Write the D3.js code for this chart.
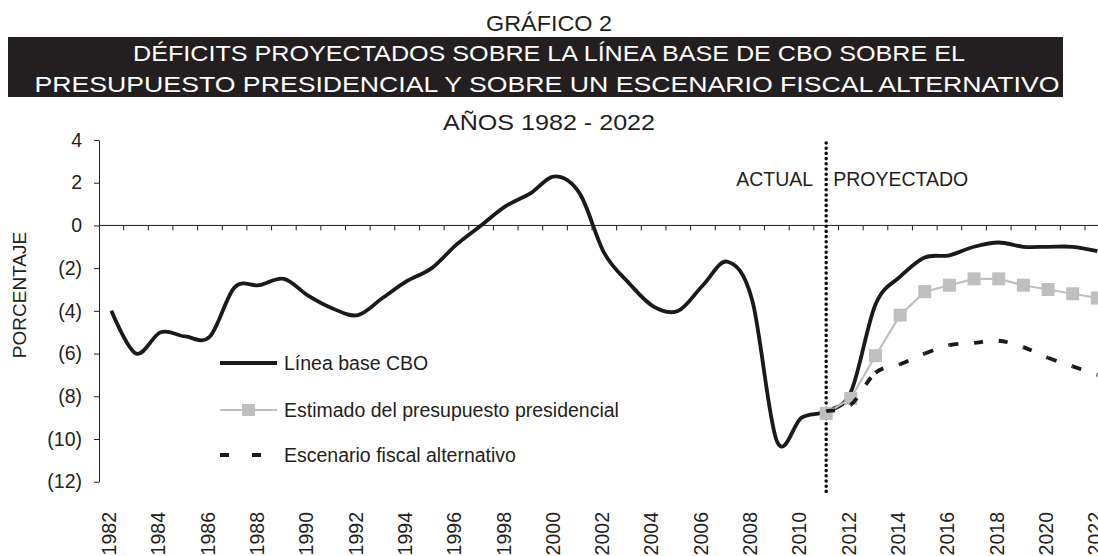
<!DOCTYPE html>
<html>
<head>
<meta charset="utf-8">
<script src="https://cdn.jsdelivr.net/npm/d3@7/dist/d3.min.js"></script>
<style>
  body { margin: 0; background: #fff; }
  svg { display: block; }
  text { font-family: "Liberation Sans", Arial, sans-serif; fill: #231f20; }
</style>
</head>
<body>
<script>
const width = 1098;
const height = 556;

// datos (% del PIB, negativo = deficit)
const years = [1982, 1983, 1984, 1985, 1986, 1987, 1988, 1989, 1990, 1991,
  1992, 1993, 1994, 1995, 1996, 1997, 1998, 1999, 2000, 2001,
  2002, 2003, 2004, 2005, 2006, 2007, 2008, 2009, 2010, 2011,
  2012, 2013, 2014, 2015, 2016, 2017, 2018, 2019, 2020, 2021, 2022];
const cboBaseline = [-4.0, -6.0, -5.0, -5.2, -5.2, -2.9, -2.8, -2.5, -3.3, -3.9,
  -4.2, -3.4, -2.6, -2.0, -0.9, 0.0, 0.9, 1.5, 2.3, 1.5,
  -1.3, -2.7, -3.8, -4.0, -2.8, -1.7, -3.5, -10.1, -9.0, -8.7,
  -7.8, -3.7, -2.4, -1.5, -1.4, -1.0, -0.8, -1.0, -1.0, -1.0, -1.2];
const projYears = [2011, 2012, 2013, 2014, 2015, 2016, 2017, 2018, 2019, 2020, 2021, 2022];
const presBudget = [-8.8, -8.1, -6.1, -4.2, -3.1, -2.8, -2.5, -2.5, -2.8, -3.0, -3.2, -3.4];
const altScenario = [-8.7, -8.4, -6.9, -6.5, -6.0, -5.6, -5.5, -5.4, -5.7, -6.2, -6.6, -7.0];
const yTicks = [4, 2, 0, -2, -4, -6, -8, -10, -12];
const legendLabels = ['Línea base CBO', 'Estimado del presupuesto presidencial', 'Escenario fiscal alternativo'];
const splitYear = 2011;

const svg = d3.select('body').append('svg')
  .attr('width', width)
  .attr('height', height);

// titulos (tipografia condensada: se ajusta el ancho con textLength)
function title(txt, xPos, yPos, len, color) {
  svg.append('text')
    .attr('x', xPos).attr('y', yPos)
    .attr('text-anchor', 'middle')
    .attr('font-size', 22)
    .attr('textLength', len).attr('lengthAdjust', 'spacingAndGlyphs')
    .style('fill', color || '#231f20')
    .text(txt);
}

title('GRÁFICO 2', 549, 31, 126);
svg.append('rect')
  .attr('x', 8).attr('y', 37)
  .attr('width', 1055).attr('height', 60)
  .attr('fill', '#231f20');
title('DÉFICITS PROYECTADOS SOBRE LA LÍNEA BASE DE CBO SOBRE EL', 549, 61, 832, '#fff');
title('PRESUPUESTO PRESIDENCIAL Y SOBRE UN ESCENARIO FISCAL ALTERNATIVO', 547, 92, 1025, '#fff');
title('AÑOS 1982 - 2022', 549, 130, 212);

// escalas
const x = d3.scaleBand()
  .domain(years)
  .range([99, 99 + years.length * 24.65]);
const cx = d => x(d) + x.bandwidth() / 2;

const y = d3.scaleLinear()
  .domain([-12, 4])
  .range([481.7, 140]);

// eje Y
const yAxis = svg.append('g')
  .attr('transform', 'translate(99,0)')
  .call(d3.axisLeft(y)
    .tickValues(yTicks)
    .tickSize(5)
    .tickSizeOuter(0)
    .tickPadding(12)
    .tickFormat(d => d < 0 ? `(${-d})` : d));
yAxis.selectAll('path, line').attr('stroke', '#231f20');
yAxis.selectAll('text')
  .attr('font-size', 19.5)
  .attr('font-family', '"Liberation Sans", Arial, sans-serif');

svg.append('text')
  .attr('transform', 'translate(26,295) rotate(-90)')
  .attr('text-anchor', 'middle')
  .attr('font-size', 19)
  .text('PORCENTAJE');

// linea del cero con marcas por anio
svg.append('line')
  .attr('x1', 99).attr('x2', width)
  .attr('y1', y(0)).attr('y2', y(0))
  .attr('stroke', '#231f20');

svg.selectAll('.xtick')
  .data(years.slice(1))
  .enter()
  .append('line')
  .attr('class', 'xtick')
  .attr('x1', d => x(d)).attr('x2', d => x(d))
  .attr('y1', y(0)).attr('y2', y(0) + 5)
  .attr('stroke', '#231f20');

// etiquetas del eje X (cada dos anios)
svg.selectAll('.xlabel')
  .data(years.filter((d, i) => i % 2 === 0))
  .enter()
  .append('text')
  .attr('class', 'xlabel')
  .attr('transform', d => `translate(${cx(d) - 2},512) rotate(-90)`)
  .attr('text-anchor', 'end')
  .attr('dy', '0.35em')
  .attr('font-size', 19.5)
  .text(d => d);

// linea punteada actual / proyectado
svg.append('line')
  .attr('x1', cx(splitYear)).attr('x2', cx(splitYear))
  .attr('y1', 143).attr('y2', 493)
  .attr('stroke', '#111')
  .attr('stroke-width', 3.6)
  .attr('stroke-linecap', 'round')
  .attr('stroke-dasharray', '0 5.2');

svg.append('text')
  .attr('x', cx(splitYear) - 13).attr('y', 186)
  .attr('text-anchor', 'end')
  .attr('font-size', 19.5)
  .text('ACTUAL');
svg.append('text')
  .attr('x', cx(splitYear) + 7).attr('y', 186)
  .attr('font-size', 19.5)
  .text('PROYECTADO');

// series
const smooth = d3.line()
  .x(d => cx(d[0]))
  .y(d => y(d[1]))
  .curve(d3.curveCardinal.tension(0));
const straight = d3.line()
  .x(d => cx(d[0]))
  .y(d => y(d[1]));

svg.append('path')
  .datum(years.map((d, i) => [d, cboBaseline[i]]))
  .attr('d', smooth)
  .attr('fill', 'none')
  .attr('stroke', '#1a1a1a')
  .attr('stroke-width', 3.8);

const presData = projYears.map((d, i) => [d, presBudget[i]]);
svg.append('path')
  .datum(presData)
  .attr('d', straight)
  .attr('fill', 'none')
  .attr('stroke', '#bebfc1')
  .attr('stroke-width', 2.2);
svg.selectAll('.pres')
  .data(presData)
  .enter()
  .append('rect')
  .attr('class', 'pres')
  .attr('x', d => cx(d[0]) - 6.5)
  .attr('y', d => y(d[1]) - 6.5)
  .attr('width', 13).attr('height', 13)
  .attr('fill', '#bebfc1');

// escenario alternativo: cada tramo suavizado por separado para que
// el patron de trazos empiece de nuevo en cada anio
const altPts = projYears.map((d, i) => [cx(d), y(altScenario[i])]);
const altSegments = altPts.slice(0, -1).map((p1, i) => {
  const p0 = altPts[Math.max(i - 1, 0)];
  const p2 = altPts[i + 1];
  const p3 = altPts[Math.min(i + 2, altPts.length - 1)];
  const c1 = [p1[0] + (p2[0] - p0[0]) / 6, p1[1] + (p2[1] - p0[1]) / 6];
  const c2 = [p2[0] - (p3[0] - p1[0]) / 6, p2[1] - (p3[1] - p1[1]) / 6];
  return `M${p1}C${c1},${c2},${p2}`;
});
svg.selectAll('.alt')
  .data(altSegments)
  .enter()
  .append('path')
  .attr('class', 'alt')
  .attr('d', d => d)
  .attr('fill', 'none')
  .attr('stroke', '#1a1a1a')
  .attr('stroke-width', 3.8)
  .attr('stroke-dasharray', '9 16');

// leyenda
const legendY = [363, 410, 455];
const lg = svg.append('g');
lg.append('line')
  .attr('x1', 220).attr('x2', 277)
  .attr('y1', legendY[0]).attr('y2', legendY[0])
  .attr('stroke', '#1a1a1a').attr('stroke-width', 3.8);
lg.append('line')
  .attr('x1', 220).attr('x2', 277)
  .attr('y1', legendY[1]).attr('y2', legendY[1])
  .attr('stroke', '#bebfc1').attr('stroke-width', 2.2);
lg.append('rect')
  .attr('x', 242).attr('y', legendY[1] - 6)
  .attr('width', 13).attr('height', 12)
  .attr('fill', '#bebfc1');
lg.append('line')
  .attr('x1', 220).attr('x2', 277)
  .attr('y1', legendY[2]).attr('y2', legendY[2])
  .attr('stroke', '#1a1a1a').attr('stroke-width', 3.8)
  .attr('stroke-dasharray', '9 23');
lg.selectAll('text')
  .data(legendLabels)
  .enter()
  .append('text')
  .attr('x', 284)
  .attr('y', (d, i) => legendY[i])
  .attr('dy', '0.35em')
  .attr('font-size', 19.5)
  .text(d => d);
</script>
</body>
</html>
